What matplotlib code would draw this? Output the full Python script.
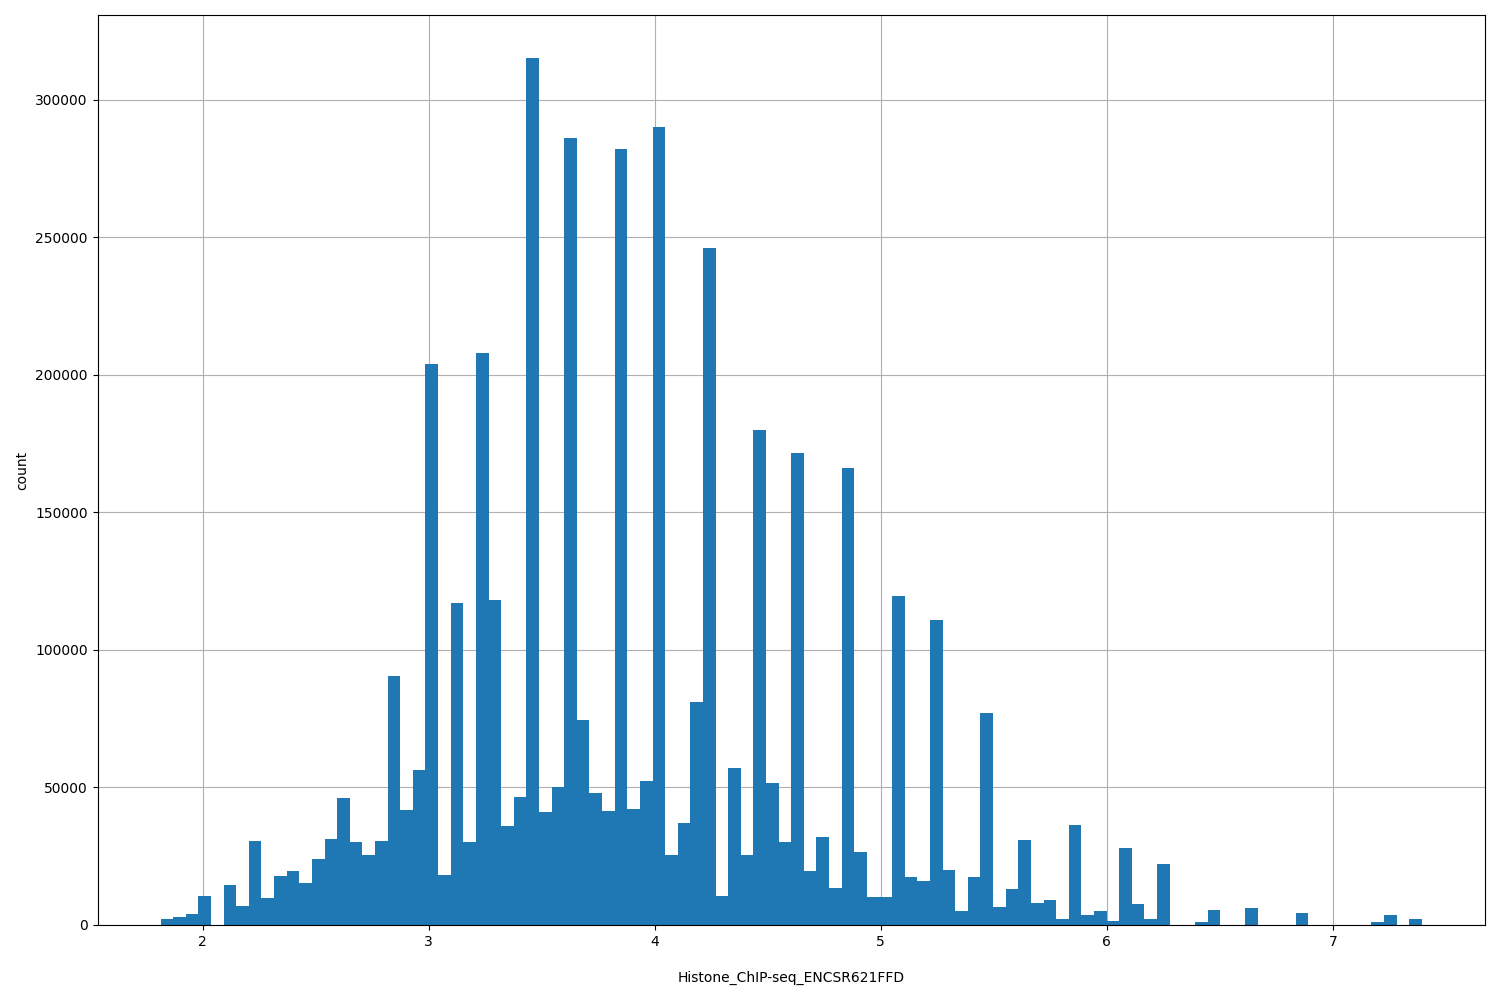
import numpy as np
import matplotlib
matplotlib.use("Agg")
import matplotlib.pyplot as plt

# histogram range and bin count
x_min, x_max = 1.814, 7.394
nbins = 100

# counts per bin, left to right
counts = [
    2200, 3000, 4000, 10500, 0, 14500, 6900, 30500, 9800, 17800,
    19700, 15300, 24000, 31200, 46100, 30100, 25400, 30500, 90400, 41800,
    56500, 204000, 18000, 117000, 30000, 208000, 118000, 36000, 46500, 315000,
    41000, 50000, 286000, 74500, 48000, 41500, 282000, 42000, 52500, 290000,
    25500, 37000, 81000, 246000, 10500, 57000, 25500, 180000, 51500, 30000,
    171500, 19500, 32000, 13500, 166000, 26500, 10000, 10000, 119500, 17500,
    16000, 111000, 20000, 5000, 17500, 77000, 6500, 13000, 31000, 8000,
    9000, 2000, 36500, 3500, 5000, 1500, 28000, 7500, 2000, 22000,
    0, 0, 1000, 5500, 0, 0, 6000, 0, 0, 0,
    4500, 0, 0, 0, 0, 0, 1000, 3500, 0, 2000,
]

edges = np.linspace(x_min, x_max, nbins + 1)
centers = (edges[:-1] + edges[1:]) / 2

fig = plt.figure(figsize=(15, 10), dpi=100)
ax = fig.add_axes([0.065, 0.075, 0.925, 0.91])

ax.hist(centers, bins=edges, weights=counts, color="#1f77b4")
ax.grid(True, color="#b0b0b0")
ax.set_axisbelow(True)
ax.set_xlabel("Histone_ChIP-seq_ENCSR621FFD", labelpad=16)
ax.set_ylabel("count")

fig.savefig("out.png", dpi=100)
